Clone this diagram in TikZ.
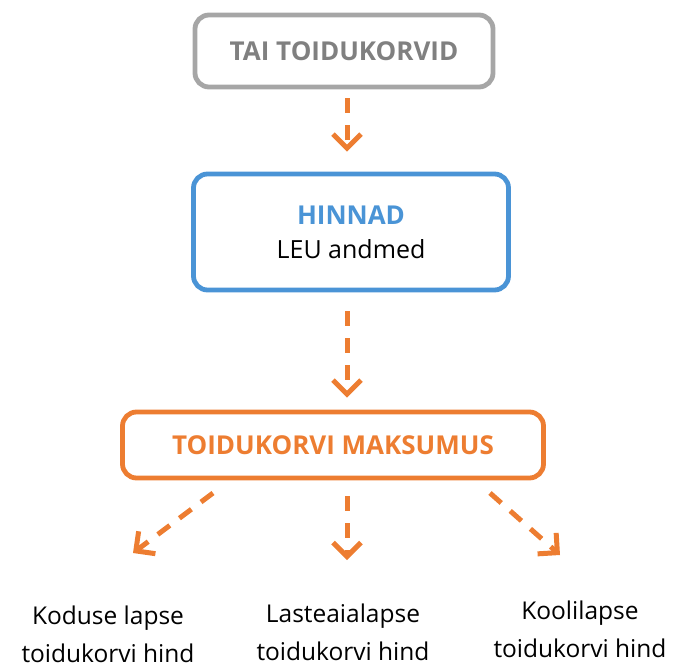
\documentclass[tikz,border=0pt]{standalone}
\usepackage{fontspec}
\setmainfont{Open Sans}
\usetikzlibrary{arrows.meta}
\definecolor{taigray}{HTML}{A6A6A6}
\definecolor{taitext}{HTML}{808080}
\definecolor{leublue}{HTML}{4A94D6}
\definecolor{korvorange}{HTML}{ED7D31}
\begin{document}
\begin{tikzpicture}[x=1pt,y=-1pt,
    box/.style={draw,line width=4.8pt,rounded corners=14pt,align=center,inner sep=0pt},
    flow/.style={draw=korvorange,line width=5pt,dash pattern=on 15pt off 12pt,
        -{Straight Barb[length=14pt,width=28pt,line join=miter]}},
    label/.style={align=center,font=\fontsize{24.5}{38}\selectfont}]
    \useasboundingbox (0,0) rectangle (678,669);

    \node[box, draw=taigray, minimum width=298pt, minimum height=72pt,
        text=taitext, font=\fontsize{26}{30}\selectfont\bfseries] at (344,51) (tai) {TAI TOIDUKORVID};

    \node[box, draw=leublue, minimum width=315pt, minimum height=116pt,
        font=\fontsize{25}{34}\selectfont] at (351,232) (hinnad) {\textcolor{leublue}{\fontsize{26}{34}\selectfont\bfseries HINNAD}\\LEU andmed};

    \node[box, draw=korvorange, minimum width=421pt, minimum height=66pt,
        text=korvorange, font=\fontsize{26}{30}\selectfont\bfseries] at (333,445) (maks) {TOIDUKORVI MAKSUMUS};

    \node[label] at (108,634) (kodu) {Koduse lapse\\toidukorvi hind};
    \node[label] at (343,632) (lasteaed) {Lasteaialapse\\toidukorvi hind};
    \node[label] at (580,629) (kool) {Koolilapse\\toidukorvi hind};

    % arrow ends below the orange box
    \coordinate (kodu top) at (133,553);
    \coordinate (kool top) at (560,555);
    \coordinate (maks left) at (213,493);
    \coordinate (maks right) at (490,493);

    \path
        (tai.south -| 347,0) edge[flow, shorten <=9pt, shorten >=20pt] (hinnad.north -| 347,0)
        (hinnad.south -| 347,0) edge[flow, shorten <=19pt, shorten >=12pt] (maks.north -| 347,0)
        (maks.south -| 347,0) edge[flow, shorten <=16pt, shorten >=40pt] (lasteaed.north -| 347,0)
        (maks left) edge[flow] (kodu top)
        (maks right) edge[flow] (kool top)
        ;
\end{tikzpicture}
\end{document}
